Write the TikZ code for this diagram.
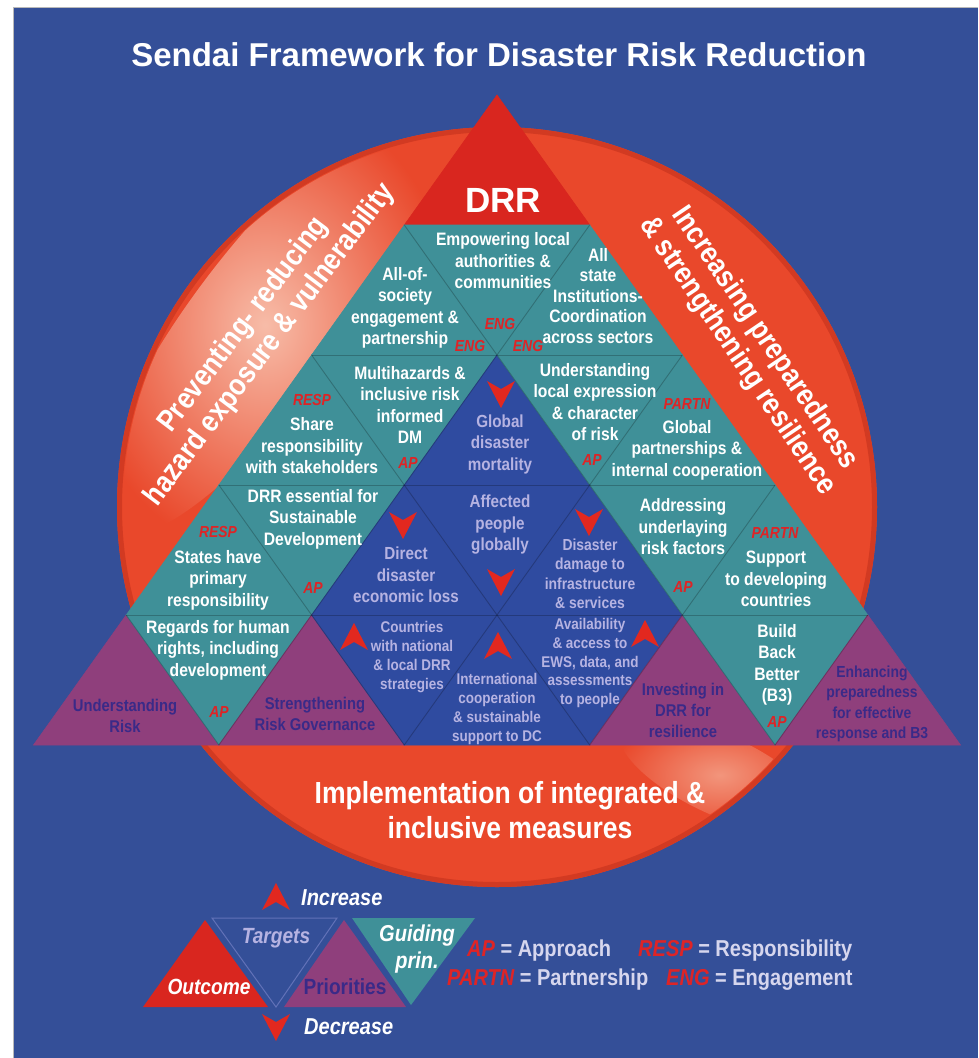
\documentclass[tikz,border=0pt]{standalone}
\usepackage{fontspec}
\setmainfont{Liberation Sans}[FakeStretch=0.87]
\newfontfamily\widefont{Liberation Sans}
\definecolor{bg}{HTML}{344F98}
\definecolor{blu}{HTML}{2F4BA0}
\definecolor{tealc}{HTML}{3F9098}
\definecolor{purp}{HTML}{8F3F7C}
\definecolor{drrred}{HTML}{D9261F}
\definecolor{orng}{HTML}{E9482B}
\definecolor{rim}{HTML}{D23A22}
\definecolor{lav}{HTML}{B6B3E2}
\definecolor{purptext}{HTML}{3A2A88}
\definecolor{labred}{HTML}{DE2426}
\definecolor{arrred}{HTML}{E2281F}
\definecolor{legtext}{HTML}{D6D6EE}
\definecolor{hilite}{HTML}{F7BCA8}
\definecolor{hilite2}{HTML}{F2957C}
\definecolor{tline}{HTML}{6272B8}
\newcommand\uptri[3]{\fill[#1,draw=#1,line width=0.6] ({497+(2*#3-#2+1)*92.7},{95+130*(#2-1)}) -- ({497+(2*#3-#2)*92.7},{95+130*#2}) -- ({497+(2*#3+2-#2)*92.7},{95+130*#2}) -- cycle;}
\newcommand\dntri[3]{\fill[#1,draw=#1,line width=0.6] ({497+(2*#3-#2+1)*92.7},{95+130*(#2-1)}) -- ({497+(2*#3+3-#2)*92.7},{95+130*(#2-1)}) -- ({497+(2*#3+2-#2)*92.7},{95+130*#2}) -- cycle;}
\newcommand\darr[1]{\fill[arrred] (#1) ++(-14,-13) -- ++(14,8) -- ++(14,-8) -- ++(-14,27) -- cycle;}
\newcommand\uarr[1]{\fill[arrred] (#1) ++(-14,13) -- ++(14,-8) -- ++(14,8) -- ++(-14,-27) -- cycle;}
\tikzset{
  tw/.style={text=white, font=\bfseries\fontsize{18}{21.5}\selectfont, align=center, inner sep=0},
  tbl/.style={text=lav, font=\bfseries\fontsize{17.5}{21.5}\selectfont, align=center, inner sep=0},
  tbs/.style={text=lav, font=\bfseries\fontsize{15.5}{19}\selectfont, align=center, inner sep=0},
  tp/.style={text=purptext, font=\bfseries\fontsize{17}{21}\selectfont, align=center, inner sep=0},
  lab/.style={text=labred, font=\bfseries\itshape\fontsize{16}{18}\selectfont, inner sep=0},
  arctext/.style={text=white, font=\bfseries\fontsize{30}{33}\selectfont, align=center, inner sep=0},
  legend/.style={text=legtext, font=\bfseries\fontsize{23}{26}\selectfont, inner sep=0, anchor=west},
  gridline/.style={draw=black, opacity=0.22, line width=0.9},
}
\begin{document}
\begin{tikzpicture}[x=1pt,y=-1pt]
\useasboundingbox (0,0) rectangle (978,1058);
\fill[white] (0,0) rectangle (978,1058);
\fill[bg] (13,7) rectangle (978,1058);
\draw[gray!55, line width=1] (13,1058) -- (13,7) -- (978,7);

% circle
\fill[orng] (497,507) circle (380);
\begin{scope}
  \clip (497,507) circle (374);
  \begin{scope}[shift={(265,325)}, rotate=53]
    \shade[inner color=hilite, outer color=orng] (0,0) ellipse (260 and 75);
  \end{scope}
  \begin{scope}[shift={(720,775)}, rotate=-25]
    \shade[inner color=hilite2, outer color=orng] (0,0) ellipse (110 and 40);
  \end{scope}
\end{scope}
\draw[rim, line width=5] (497,507) circle (377.5);

% triangle grid
\uptri{drrred}{1}{0}
\uptri{tealc}{2}{0} \dntri{tealc}{2}{0} \uptri{tealc}{2}{1}
\uptri{tealc}{3}{0} \dntri{tealc}{3}{0} \uptri{blu}{3}{1} \dntri{tealc}{3}{1} \uptri{tealc}{3}{2}
\uptri{tealc}{4}{0} \dntri{tealc}{4}{0} \uptri{blu}{4}{1} \dntri{blu}{4}{1} \uptri{blu}{4}{2} \dntri{tealc}{4}{2} \uptri{tealc}{4}{3}
\uptri{purp}{5}{0} \dntri{tealc}{5}{0} \uptri{purp}{5}{1} \dntri{blu}{5}{1} \uptri{blu}{5}{2} \dntri{blu}{5}{2} \uptri{purp}{5}{3} \dntri{tealc}{5}{3} \uptri{purp}{5}{4}
\foreach \i in {2,...,4} {\draw[gridline] ({497-\i*92.7},{95+130*\i}) -- ({497+\i*92.7},{95+130*\i});}
\foreach \j in {1,...,4} {
  \draw[gridline] ({497+\j*92.7},{95+130*\j}) -- ({497+(2*\j-5)*92.7},745);
  \draw[gridline] ({497-\j*92.7},{95+130*\j}) -- ({497+(5-2*\j)*92.7},745);
}

% title and headings
\node[text=white, font=\widefont\bfseries\fontsize{33}{36}\selectfont, inner sep=0] (title) at (499,55) {Sendai Framework for Disaster Risk Reduction};
\node[text=white, font=\widefont\bfseries\fontsize{35}{38}\selectfont, inner sep=0] (drr) at (503,200) {DRR};
\node[arctext, rotate=53] (prev) at (257,335) {Preventing- reducing\\hazard exposure \& vulnerability};
\node[arctext, rotate=-56] (incr) at (751,347) {Increasing preparedness\\\& strengthening resilience};
\node[arctext, font=\bfseries\fontsize{30.5}{35}\selectfont] (impl) at (510,810) {Implementation of integrated \&\\inclusive measures};

% row 2
\node[tw] (empower) at (503,261) {Empowering local\\authorities \&\\communities};
\node[tw] (allsoc) at (405,308) {All-of-\\society\\engagement \&\\partnership};
\node[tw, font=\bfseries\fontsize{18}{20.5}\selectfont] (allstate) at (598,296) {All\\state\\Institutions-\\Coordination\\across sectors};
\node[lab] (eng1) at (470,346) {ENG};
\node[lab] (eng2) at (500,324) {ENG};
\node[lab] (eng3) at (528,346) {ENG};

% row 3
\node[lab] (resp1) at (312,400) {RESP};
\node[tw] (share) at (312,446) {Share\\responsibility\\with stakeholders};
\node[tw] (multi) at (410,405) {Multihazards \&\\inclusive risk\\informed\\DM};
\node[lab] (ap1) at (408,463) {AP};
\node[tbl] (mort) at (500,444) {Global\\disaster\\mortality};
\node[tw] (underst) at (595,402) {Understanding\\local expression\\\& character\\of risk};
\node[lab] (ap2) at (592,460) {AP};
\node[lab] (partn1) at (687,404) {PARTN};
\node[tw] (global) at (687,450) {Global\\partnerships \&\\internal cooperation};

% row 4
\node[lab] (resp2) at (218,532) {RESP};
\node[tw] (states) at (218,580) {States have\\primary\\responsibility};
\node[tw] (drress) at (313,519) {DRR essential for\\Sustainable\\Development};
\node[lab] (ap3) at (313,588) {AP};
\node[tbl] (direct) at (406,575) {Direct\\disaster\\economic loss};
\node[tbl] (affected) at (500,525) {Affected\\people\\globally};
\node[tbl, font=\bfseries\fontsize{16}{19.5}\selectfont] (damage) at (590,574) {Disaster\\damage to\\infrastructure\\\& services};
\node[tw] (address) at (683,527) {Addressing\\underlaying\\risk factors};
\node[lab] (ap4) at (683,587) {AP};
\node[lab] (partn2) at (775,533) {PARTN};
\node[tw] (support) at (776,579) {Support\\to developing\\countries};

% row 5
\node[tp] (undrisk) at (125,716) {Understanding\\Risk};
\node[tw] (regards) at (218,650) {Regards for human\\rights, including\\development};
\node[lab] (ap5) at (219,712) {AP};
\node[tp] (strength) at (315,714) {Strengthening\\Risk Governance};
\node[tbs] (countries) at (412,657) {Countries\\with national\\\& local DRR\\strategies};
\node[tbs] (intl) at (497,709) {International\\cooperation\\\& sustainable\\support to DC};
\node[tbs, font=\bfseries\fontsize{15.5}{18.8}\selectfont] (avail) at (590,663) {Availability\\\& access to\\EWS, data, and\\assessments\\to people};
\node[tp] (invest) at (683,710) {Investing in\\DRR for\\resilience};
\node[tw] (build) at (777,665) {Build\\Back\\Better\\(B3)};
\node[lab] (ap6) at (777,722) {AP};
\node[tp, font=\bfseries\fontsize{16}{20.3}\selectfont] (enhance) at (872,704) {Enhancing\\preparedness\\for effective\\response and B3};

% target arrows
\darr{501,394}
\darr{403,525}
\darr{501,582}
\darr{589,522}
\uarr{354,637}
\uarr{498,646}
\uarr{645,634}

% legend
\fill[drrred] (205,920) -- (143,1007) -- (268,1007) -- cycle;
\filldraw[fill=bg, draw=tline, line width=1] (212,918) -- (337,918) -- (276,1007) -- cycle;
\fill[purp] (344,920) -- (284,1007) -- (406,1007) -- cycle;
\fill[tealc] (352,918) -- (475,918) -- (411,1005) -- cycle;
\uarr{276,897}
\darr{276,1027}
\node[text=white, font=\bfseries\itshape\fontsize{23}{26}\selectfont, inner sep=0, anchor=west] (inc) at (301,898) {Increase};
\node[text=white, font=\bfseries\itshape\fontsize{23}{26}\selectfont, inner sep=0, anchor=west] (dec) at (304,1027) {Decrease};
\node[text=white, font=\bfseries\itshape\fontsize{22}{25}\selectfont, inner sep=0] (outc) at (209,987) {Outcome};
\node[text=lav, font=\bfseries\itshape\fontsize{22}{25}\selectfont, inner sep=0] (targ) at (276,938) {Targets};
\node[text=purptext, font=\bfseries\fontsize{22}{25}\selectfont, inner sep=0] (prio) at (345,987) {Priorities};
\node[text=white, font=\bfseries\itshape\fontsize{23}{27}\selectfont, inner sep=0, align=center] (guid) at (417,949) {Guiding\\prin.};
\node[legend] (lap) at (467,951) {\textcolor{labred}{\itshape AP} = Approach};
\node[legend] (lresp) at (638,951) {\textcolor{labred}{\itshape RESP} = Responsibility};
\node[legend] (lpartn) at (447,980) {\textcolor{labred}{\itshape PARTN} = Partnership};
\node[legend] (leng) at (666,980) {\textcolor{labred}{\itshape ENG} = Engagement};
\end{tikzpicture}
\end{document}
